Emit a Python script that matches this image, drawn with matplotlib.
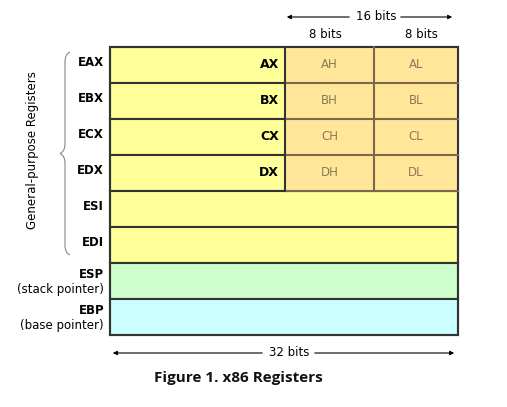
import matplotlib
matplotlib.use("Agg")
import matplotlib.pyplot as plt
import matplotlib.patches as patches
from matplotlib.path import Path

registers = ["EAX", "EBX", "ECX", "EDX", "ESI", "EDI", "ESP", "EBP"]
subtitles = ["", "", "", "", "", "", "(stack pointer)", "(base pointer)"]
words = ["AX", "BX", "CX", "DX"]
high_bytes = ["AH", "BH", "CH", "DH"]
low_bytes = ["AL", "BL", "CL", "DL"]
row_colors = ["#ffff99"] * 6 + ["#ccffcc", "#ccffff"]

fig = plt.figure(figsize=(5.07, 4.07), dpi=100)
ax = fig.add_axes([0, 0, 1, 1])
ax.set_xlim(0, 507)
ax.set_ylim(407, 0)
ax.axis("off")

left, right, top, row_h = 110, 458, 47, 36
mid1, mid2 = 285, 374
edge = "#333333"

for i, name in enumerate(registers):
    y = top + i * row_h
    ax.add_patch(patches.Rectangle((left, y), right - left, row_h,
                                   facecolor=row_colors[i], edgecolor=edge, lw=1.5))
    if subtitles[i]:
        ax.text(104, y + 12, name, ha="right", va="center", fontsize=8.5, fontweight="bold")
        ax.text(104, y + 26, subtitles[i], ha="right", va="center", fontsize=8.5)
    else:
        ax.text(104, y + 15, name, ha="right", va="center", fontsize=8.5, fontweight="bold")

for i, w in enumerate(words):
    y = top + i * row_h
    ax.add_patch(patches.Rectangle((mid1, y), right - mid1, row_h,
                                   facecolor="#ffe699", edgecolor="none"))
    ax.plot([mid2, mid2], [y, y + row_h], color="#7a6a4a", lw=1.5)
    ax.plot([mid1, right], [y + row_h, y + row_h], color="#7a6a4a", lw=1.5)
    ax.text(279, y + 18, w, ha="right", va="center", fontsize=9, fontweight="bold")
    ax.text((mid1 + mid2) / 2, y + 18, high_bytes[i], ha="center", va="center",
            fontsize=8.5, color="#8a7a5a")
    ax.text((mid2 + right) / 2, y + 18, low_bytes[i], ha="center", va="center",
            fontsize=8.5, color="#8a7a5a")
ax.plot([mid1, mid1], [top, top + 4 * row_h], color=edge, lw=1.5)
ax.add_patch(patches.Rectangle((left, top), right - left, row_h * len(registers),
                               facecolor="none", edgecolor=edge, lw=1.5))

# bit-width arrows
arrow = dict(arrowstyle="-|>", color="black", lw=0.8, mutation_scale=6)
ax.annotate("", xy=(284, 17), xytext=(352, 17), arrowprops=arrow)
ax.annotate("", xy=(455, 17), xytext=(398, 17), arrowprops=arrow)
ax.text(376, 17, "16 bits", ha="center", va="center", fontsize=8.5)
ax.text(325, 34, "8 bits", ha="center", va="center", fontsize=8.5)
ax.text(421, 34, "8 bits", ha="center", va="center", fontsize=8.5)

ax.annotate("", xy=(110, 353), xytext=(265, 353), arrowprops=arrow)
ax.annotate("", xy=(457, 353), xytext=(312, 353), arrowprops=arrow)
ax.text(289, 353, "32 bits", ha="center", va="center", fontsize=8.5)

ax.text(238, 378, "Figure 1. x86 Registers", ha="center", va="center",
        fontsize=11, fontweight="bold", family="Open Sans", color="#111111")

# brace
bx, y0, y1 = 66, 52, 255
ym = (y0 + y1) / 2
verts = [(bx + 4, y0), (bx - 1, y0 + 2), (bx - 1, y0 + 10), (bx - 1, ym - 10),
         (bx - 1, ym - 2), (bx - 6, ym), (bx - 6, ym),
         (bx - 6, ym), (bx - 1, ym + 2), (bx - 1, ym + 10), (bx - 1, y1 - 10),
         (bx - 1, y1 - 2), (bx + 4, y1)]
codes = [Path.MOVETO, Path.CURVE3, Path.CURVE3, Path.LINETO, Path.CURVE3, Path.CURVE3,
         Path.LINETO, Path.LINETO, Path.CURVE3, Path.CURVE3, Path.LINETO,
         Path.CURVE3, Path.CURVE3]
ax.add_patch(patches.PathPatch(Path(verts, codes), facecolor="none",
                               edgecolor="#888888", lw=0.8))
ax.text(33, 150, "General-purpose Registers", rotation=90, ha="center", va="center",
        fontsize=8.5)

fig.savefig("out.png", dpi=100)
